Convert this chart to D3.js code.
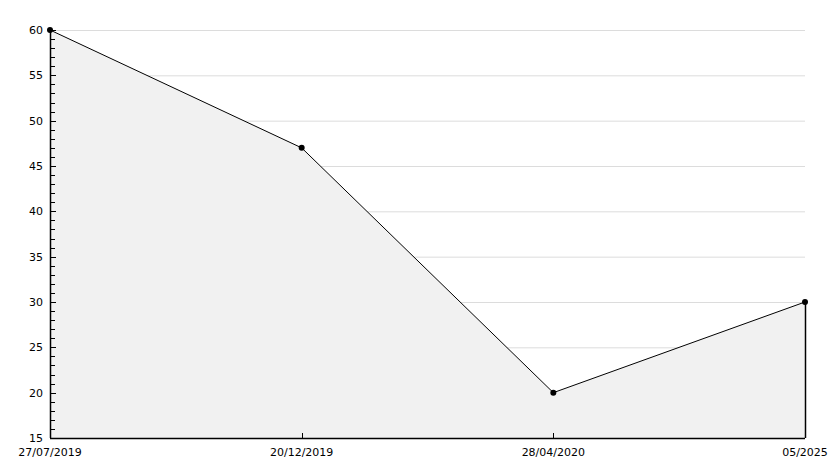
<!DOCTYPE html>
<html><head><meta charset="utf-8">
<script src="https://cdn.jsdelivr.net/npm/d3@7"></script>
<style>body{margin:0;background:#fff}svg{display:block}text{font-family:"DejaVu Sans",sans-serif;font-size:11px;fill:#000}</style>
</head><body>
<svg id="c" width="834" height="468"></svg>
<script>
const categories = ["27/07/2019","20/12/2019","28/04/2020","05/2025"];
const values = [60, 47, 20, 30];
const yMajorTicks = [15,20,25,30,35,40,45,50,55,60];

const svg = d3.select("#c");
const L = 50, R = 805, T = 30, B = 438;
const x = d3.scalePoint().domain(categories).range([L, R]);
const y = d3.scaleLinear().domain([15, 60]).range([B, T]);

// gridlines
svg.append("g").selectAll("line").data(yMajorTicks.filter(d=>d>15)).join("line")
  .attr("x1", L).attr("x2", R).attr("y1", d=>y(d)+0.5).attr("y2", d=>y(d)+0.5)
  .attr("stroke", "#dcdcdc").attr("stroke-width", 1);

const data = categories.map((c,i)=>({c, v: values[i]}));
svg.append("path").datum(data)
  .attr("d", d3.area().x(d=>x(d.c)).y0(B).y1(d=>y(d.v)))
  .attr("fill", "#f1f1f1");
svg.append("path").datum(data)
  .attr("d", d3.line().x(d=>x(d.c)).y(d=>y(d.v)))
  .attr("fill", "none").attr("stroke", "#000").attr("stroke-width", 1);
// right edge of area
svg.append("line").attr("x1", x(categories[3])+0.5).attr("x2", x(categories[3])+0.5)
  .attr("y1", y(values[3])).attr("y2", B).attr("stroke","#000").attr("stroke-width",1.5);

// y axis
const yAxis = svg.append("g");
yAxis.append("line").attr("x1", L+0.5).attr("x2", L+0.5).attr("y1", T).attr("y2", B).attr("stroke","#000").attr("stroke-width",1.5);
const minor = d3.range(15, 61, 1);
yAxis.selectAll("line.t").data(minor).join("line").attr("class","t")
  .attr("x1", L).attr("x2", d=> d%5===0 ? L+6 : L+5)
  .attr("y1", d=>Math.round(y(d))+0.5).attr("y2", d=>Math.round(y(d))+0.5)
  .attr("stroke","#000").attr("stroke-width",1);
yAxis.selectAll("text").data(yMajorTicks).join("text")
  .attr("x", L-7).attr("y", d=>y(d)).attr("dy","0.35em").attr("text-anchor","end").text(d=>d);

// x axis
const xAxis = svg.append("g");
xAxis.append("line").attr("x1", L).attr("x2", R).attr("y1", B+0.5).attr("y2", B+0.5).attr("stroke","#000").attr("stroke-width",1.5);
xAxis.selectAll("line.t").data(categories).join("line").attr("class","t")
  .attr("x1", d=>Math.round(x(d))+0.5).attr("x2", d=>Math.round(x(d))+0.5)
  .attr("y1", B).attr("y2", B-5).attr("stroke","#000");
xAxis.selectAll("text").data(categories).join("text")
  .attr("x", d=>x(d)).attr("y", B+14).attr("dy","0.35em").attr("text-anchor","middle").text(d=>d);

// markers
svg.append("g").selectAll("circle").data(data).join("circle")
  .attr("cx", d=>x(d.c)).attr("cy", d=>y(d.v)).attr("r", 3).attr("fill","#000");
</script>
</body></html>
